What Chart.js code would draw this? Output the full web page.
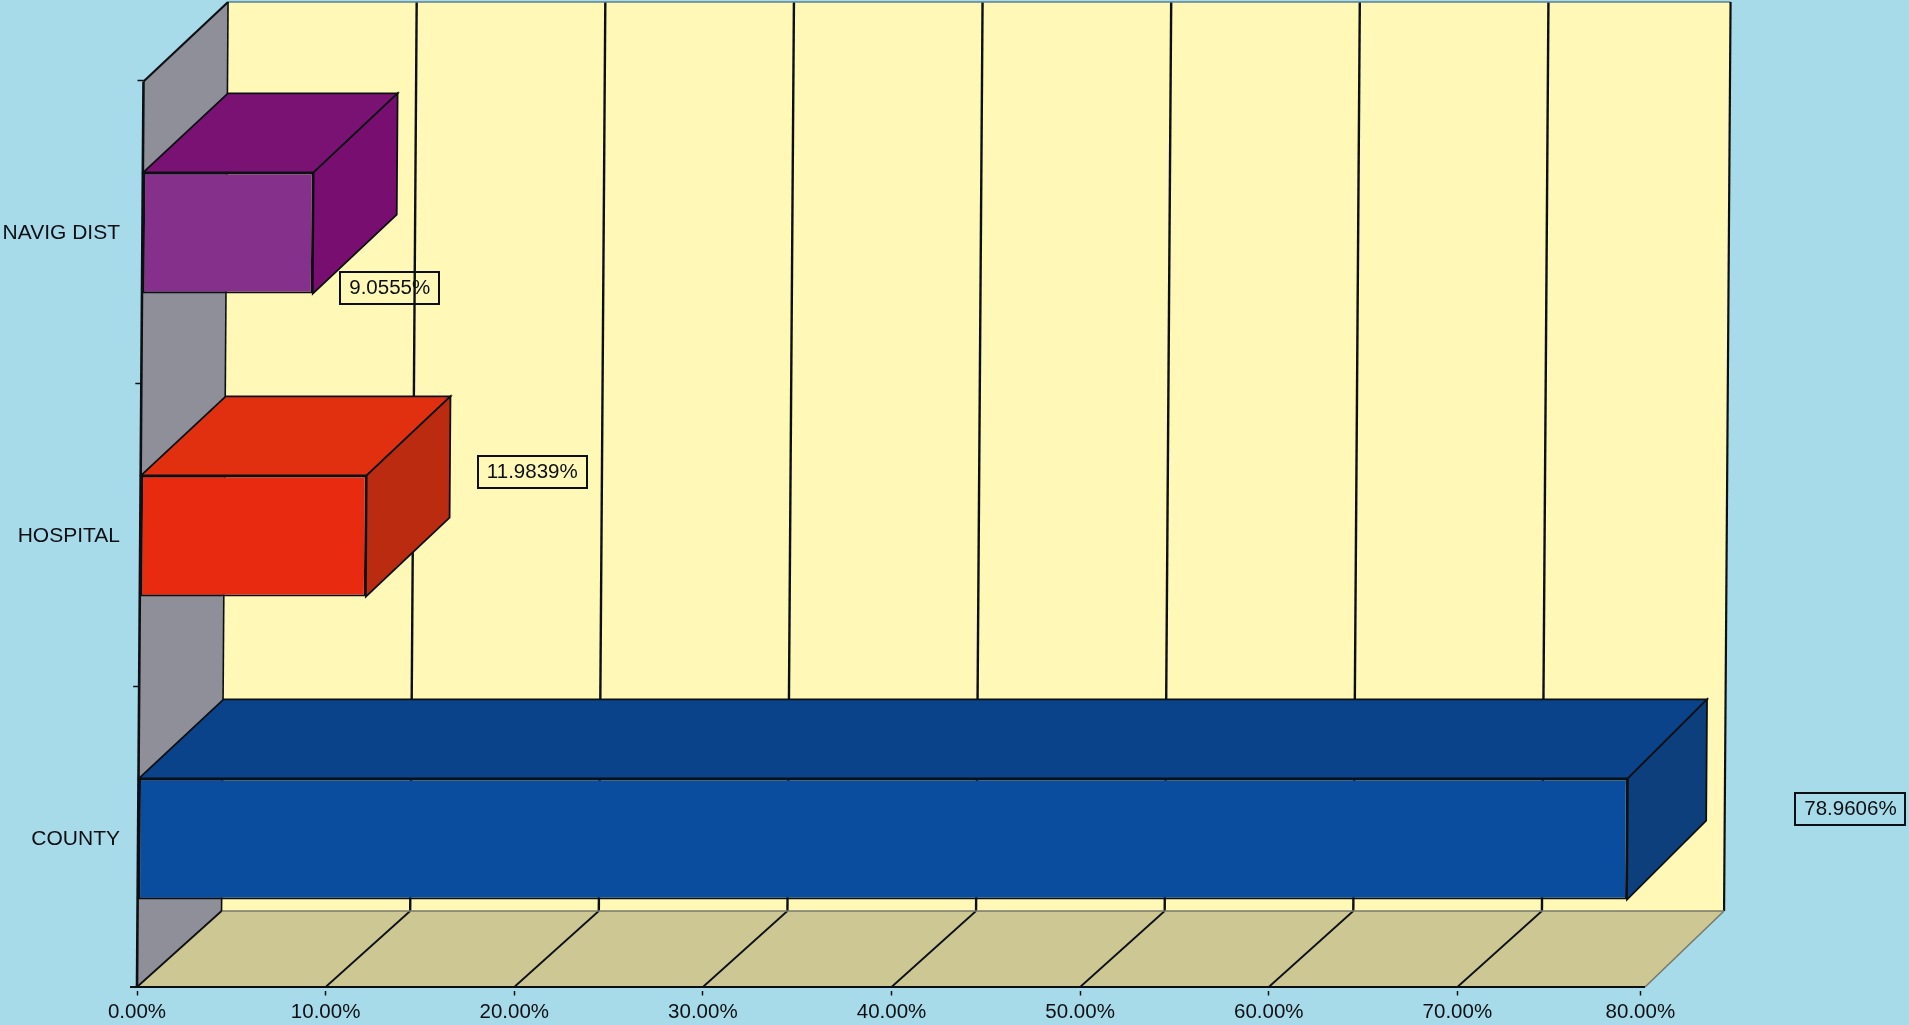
<!DOCTYPE html>
<html>
<head>
<meta charset="utf-8">
<title>Share by entity</title>
<script src="https://cdn.jsdelivr.net/npm/chart.js@4"></script>
<style>
html,body{margin:0;padding:0;background:#a8dbe9;overflow:hidden}
canvas{display:block}
</style>
</head>
<body>
<canvas id="c" width="1909" height="1025"></canvas>
<script>
const categories = ['COUNTY', 'HOSPITAL', 'NAVIG DIST'];
const shares = [78.9606, 11.9839, 9.0555];
const xTickValues = [0, 10, 20, 30, 40, 50, 60, 70, 79.7];
const xTickLabels = ['0.00%', '10.00%', '20.00%', '30.00%', '40.00%', '50.00%', '60.00%', '70.00%', '80.00%'];
const frontColors = ['#0a4c9e', '#e82a10', '#85308a'];
const topColors = ['#0b438a', '#e0300f', '#7a1274'];
const sideColors = ['#0c3f7c', '#bb2b10', '#780f70'];
const labelOffsets = [[223, -30.5], [166, -64.5], [76.5, 54.5]];

const FONT = '20.5px "Liberation Sans", Arial, sans-serif';
const INK = '#0c1014';
const SHEAR = 6.5 / 907;
const FLOOR_Y = 987, BACK_FLOOR_Y = 911, BACK_TOP_Y = 2;
const DX = 84, DY = 79, RIGHT_DX = 78.5;

function applyShear(ctx) { ctx.transform(1, 0, -SHEAR, 1, SHEAR * FLOOR_Y, 0); }
function poly(ctx, pts, fill, stroke, width) {
  ctx.beginPath();
  pts.forEach((p, i) => i ? ctx.lineTo(p[0], p[1]) : ctx.moveTo(p[0], p[1]));
  ctx.closePath();
  if (fill) { ctx.fillStyle = fill; ctx.fill(); }
  if (stroke) { ctx.strokeStyle = stroke; ctx.lineWidth = width; ctx.lineJoin = 'miter'; ctx.stroke(); }
}
function line(ctx, x1, y1, x2, y2, color, width) {
  ctx.beginPath(); ctx.moveTo(x1, y1); ctx.lineTo(x2, y2);
  ctx.strokeStyle = color; ctx.lineWidth = width; ctx.stroke();
}

const stage = {
  id: 'stage',
  beforeDraw(chart) {
    const ctx = chart.ctx;
    ctx.save();
    ctx.fillStyle = '#a8dbe9';
    ctx.fillRect(0, 0, chart.width, chart.height);
    ctx.restore();
  },
  beforeDatasetsDraw(chart) {
    const ctx = chart.ctx, x = chart.scales.x, y = chart.scales.y;
    const x0 = x.getPixelForValue(0), xEnd = x.getPixelForValue(80) - 1, top = y.top;
    const depthAt = px => DX - (DX - RIGHT_DX) * (px - x0) / (xEnd - x0);
    ctx.save();
    applyShear(ctx);
    // back wall
    poly(ctx, [[x0 + DX, BACK_TOP_Y], [xEnd + RIGHT_DX, BACK_TOP_Y], [xEnd + RIGHT_DX, BACK_FLOOR_Y], [x0 + DX, BACK_FLOOR_Y]], '#fff8b6');
    // floor
    poly(ctx, [[x0, FLOOR_Y], [xEnd, FLOOR_Y], [xEnd + RIGHT_DX, BACK_FLOOR_Y], [x0 + DX, BACK_FLOOR_Y]], '#cdc794');
    // left wall
    poly(ctx, [[x0, FLOOR_Y], [x0, top], [x0 + DX, BACK_TOP_Y], [x0 + DX, BACK_FLOOR_Y]], '#8e8f98');
    // gridlines on the back wall and floor
    xTickValues.slice(1, -1).forEach(v => {
      const px = x.getPixelForValue(v);
      line(ctx, px + DX, BACK_TOP_Y, px + DX, BACK_FLOOR_Y, INK, 2.4);
      line(ctx, px + DX, BACK_FLOOR_Y, px, FLOOR_Y, INK, 1.8);
    });
    // frame lines
    line(ctx, x0 + DX, BACK_TOP_Y, xEnd + RIGHT_DX, BACK_TOP_Y, '#5f7f8c', 1.5);
    line(ctx, xEnd + RIGHT_DX, BACK_TOP_Y, xEnd + RIGHT_DX, BACK_FLOOR_Y, INK, 2.2);
    line(ctx, x0 + DX, BACK_FLOOR_Y, xEnd + RIGHT_DX, BACK_FLOOR_Y, '#77776a', 1.5);
    line(ctx, xEnd + RIGHT_DX, BACK_FLOOR_Y, xEnd, FLOOR_Y, '#77776a', 1.5);
    line(ctx, x0 + DX, BACK_TOP_Y, x0 + DX, BACK_FLOOR_Y, INK, 1.6);
    line(ctx, x0, top, x0 + DX, BACK_TOP_Y, INK, 2.2);
    line(ctx, x0, FLOOR_Y, x0 + DX, BACK_FLOOR_Y, INK, 1.8);
    line(ctx, x0, top, x0, FLOOR_Y, INK, 2.6);
    line(ctx, x0 - 7, FLOOR_Y, xEnd, FLOOR_Y, INK, 1.8);
    // y-axis tick marks between categories
    const step = (y.bottom - y.top) / categories.length;
    for (let i = 0; i < categories.length; i++) {
      const ty = y.top + i * step - 1;
      line(ctx, x0 - 6, ty, x0, ty, INK, 1.5);
    }
    // bar depth faces
    chart.getDatasetMeta(0).data.forEach((el, i) => {
      const p = el.getProps(['x', 'y', 'base', 'height'], true);
      const t = p.y - p.height / 2, b = p.y + p.height / 2;
      const d = depthAt(p.x);
      poly(ctx, [[p.base, t], [p.x, t], [p.x + d, t - DY], [p.base + DX, t - DY]], topColors[i], INK, 1.8);
      poly(ctx, [[p.x, t], [p.x + d, t - DY], [p.x + d, b - DY], [p.x, b]], sideColors[i], INK, 1.8);
    });
    ctx.restore();
  },
  beforeDatasetDraw(chart) { chart.ctx.save(); applyShear(chart.ctx); },
  afterDatasetDraw(chart) { chart.ctx.restore(); },
  afterDatasetsDraw(chart) {
    const ctx = chart.ctx;
    ctx.save();
    ctx.font = FONT;
    ctx.textAlign = 'center';
    ctx.textBaseline = 'middle';
    chart.getDatasetMeta(0).data.forEach((el, i) => {
      const p = el.getProps(['x', 'y'], true);
      const text = shares[i].toFixed(4) + '%';
      const cx = p.x + SHEAR * (FLOOR_Y - p.y) + labelOffsets[i][0];
      const cy = p.y + labelOffsets[i][1];
      const w = ctx.measureText(text).width + 18, h = 32;
      ctx.lineWidth = 2;
      ctx.strokeStyle = INK;
      ctx.strokeRect(Math.round(cx - w / 2), Math.round(cy - h / 2), Math.round(w), h);
      ctx.fillStyle = INK;
      ctx.fillText(text, cx, cy + 1);
    });
    ctx.restore();
  }
};

new Chart(document.getElementById('c'), {
  type: 'bar',
  plugins: [stage],
  data: {
    labels: categories,
    datasets: [{
      data: shares,
      backgroundColor: frontColors,
      borderColor: INK,
      borderWidth: 2,
      borderSkipped: false,
      categoryPercentage: 1,
      barPercentage: 0.4,
      clip: false
    }]
  },
  options: {
    indexAxis: 'y',
    responsive: false,
    animation: false,
    events: [],
    layout: { padding: { top: 81.5, right: 263, left: 0, bottom: 0 } },
    plugins: { legend: { display: false }, tooltip: { enabled: false }, title: { display: false } },
    scales: {
      x: {
        type: 'linear',
        min: 0,
        max: 80,
        afterBuildTicks(scale) { scale.ticks = xTickValues.map(v => ({ value: v })); },
        afterFit(scale) { scale.height = 34.5; },
        border: { display: false },
        grid: { drawOnChartArea: false, drawTicks: true, tickLength: 5, tickColor: INK, tickWidth: 1.5 },
        ticks: {
          autoSkip: false,
          maxRotation: 0,
          minRotation: 0,
          padding: 5,
          color: INK,
          font: { family: '"Liberation Sans", Arial, sans-serif', size: 20.5 },
          callback: (value, index) => xTickLabels[index]
        }
      },
      y: {
        type: 'category',
        reverse: true,
        afterFit(scale) { scale.width = 137; },
        border: { display: false },
        grid: { drawOnChartArea: false, drawTicks: false },
        ticks: {
          padding: 17,
          color: INK,
          font: { family: '"Liberation Sans", Arial, sans-serif', size: 21 }
        }
      }
    }
  }
});
</script>
</body>
</html>
